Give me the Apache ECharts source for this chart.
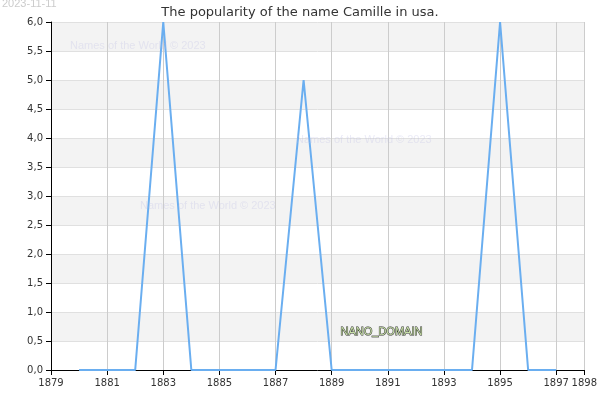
<!DOCTYPE html>
<html>
<head>
<meta charset="utf-8">
<script src="https://cdn.jsdelivr.net/npm/echarts@6/dist/echarts.min.js"></script>
<style>html,body{margin:0;padding:0;background:#fff}#chart{width:600px;height:400px}</style>
</head>
<body>
<div id="chart"></div>
<script>
var years = [1880, 1881, 1882, 1883, 1884, 1885, 1886, 1887, 1888, 1889, 1890, 1891, 1892, 1893, 1894, 1895, 1896, 1897];
var counts = [0, 0, 0, 6, 0, 0, 0, 0, 5, 0, 0, 0, 0, 0, 0, 6, 0, 0];

var points = years.map(function (y, i) { return [y, counts[i]]; });
var chart = echarts.init(document.getElementById('chart'));
var wmColor = 'rgba(190,190,230,0.3)';

chart.setOption({
    animation: false,
    textStyle: { fontFamily: 'DejaVu Sans' },
    title: { text: 'The popularity of the name Camille in usa.', left: 'center', top: 1,
        textStyle: { fontSize: 13, fontWeight: 'normal', color: '#333' } },
    graphic: [
        { type: 'text', z: 100, left: 2, top: -2, style: { text: '2023-11-11', fill: '#ccc', fontSize: 11 } },
        { type: 'text', z: 100, left: 70, top: 40, style: { text: 'Names of the World © 2023', fill: wmColor, fontSize: 11 } },
        { type: 'text', z: 100, left: 296, top: 134, style: { text: 'Names of the World © 2023', fill: wmColor, fontSize: 11 } },
        { type: 'text', z: 100, left: 140, top: 200, style: { text: 'Names of the World © 2023', fill: wmColor, fontSize: 11 } },
        { type: 'text', z: 100, left: 340, top: 326, style: { text: 'NANO_DOMAIN', fill: '#c8e0a8', stroke: '#333', lineWidth: 1, fontSize: 11 } }
    ],
    grid: { left: 51, right: 15, top: 22, bottom: 30 },
    xAxis: {
        type: 'value', min: 1879, max: 1898, interval: 2,
        axisLine: { lineStyle: { color: '#000' } },
        axisTick: { show: true, lineStyle: { color: '#000' } },
        axisLabel: { color: '#333', fontSize: 10, showMaxLabel: true, hideOverlap: false,
            formatter: function (v) { return String(v); } },
        splitLine: { show: true, lineStyle: { color: '#ccc' } }
    },
    yAxis: {
        type: 'value', min: 0, max: 6, interval: 0.5,
        axisLine: { show: true, lineStyle: { color: '#000' } },
        axisTick: { show: true, lineStyle: { color: '#000' } },
        axisLabel: { color: '#333', fontSize: 10, formatter: function (v) { return v.toFixed(1).replace('.', ','); } },
        splitLine: { show: true, lineStyle: { color: '#e0e0e0' } },
        splitArea: { show: true, areaStyle: { color: ['#fff', '#f3f3f3'] } }
    },
    series: [{
        type: 'line', data: points, symbol: 'none',
        lineStyle: { color: '#6aaef0', width: 2 }
    }]
});
</script>
</body>
</html>
